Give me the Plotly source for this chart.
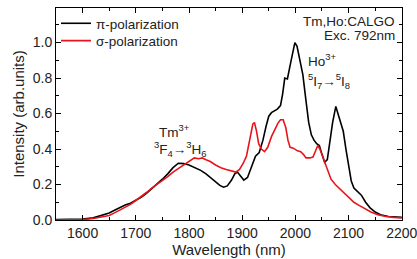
import plotly.graph_objects as go

wl_pi = [1550,1575,1600,1620,1640,1650,1660,1670,1680,1690,1700,1710,1720,1730,1740,1750,1760,1770,1780,1790,
         1800,1810,1822,1832,1840,1850,1858,1865,1872,1880,1886,1891,1896,1903,1910,1917,1925,1932,1939,1945,
         1950,1955,1960,1966,1972,1976,1980,1985,1990,1995,1999,2003,2008,2014,2020,2025,2030,2035,2040,2045,
         2050,2055,2060,2065,2070,2076,2080,2085,2090,2095,2100,2105,2110,2118,2124,2132,2140,2150,2160,2175,
         2190,2200]
int_pi = [0.002,0.003,0.005,0.012,0.028,0.04,0.055,0.07,0.085,0.095,0.11,0.128,0.15,0.175,0.2,0.23,0.26,0.295,0.32,0.318,
          0.31,0.295,0.28,0.26,0.24,0.21,0.195,0.185,0.192,0.225,0.26,0.27,0.25,0.225,0.24,0.3,0.36,0.38,0.45,0.53,
          0.585,0.605,0.615,0.625,0.645,0.71,0.8,0.795,0.87,0.95,1.0,0.98,0.9,0.82,0.67,0.55,0.48,0.45,0.43,0.42,
          0.37,0.325,0.34,0.45,0.55,0.64,0.6,0.55,0.5,0.4,0.3,0.22,0.18,0.16,0.14,0.1,0.07,0.045,0.03,0.02,
          0.015,0.015]

wl_sigma = [1550,1575,1600,1620,1640,1650,1660,1670,1680,1690,1700,1710,1720,1730,1740,1750,1760,1770,1780,1790,
            1800,1810,1818,1825,1832,1840,1850,1860,1870,1880,1888,1895,1902,1908,1914,1920,1923,1927,1931,1936,
            1942,1948,1955,1962,1967,1972,1977,1982,1986,1990,1996,2004,2010,2015,2020,2027,2033,2038,2042,2046,
            2052,2060,2067,2075,2085,2092,2100,2110,2118,2130,2142,2155,2170,2185,2200]
int_sigma = [0.0,0.0,0.003,0.008,0.018,0.025,0.04,0.055,0.07,0.088,0.11,0.13,0.155,0.18,0.2,0.225,0.245,0.27,0.29,0.31,
             0.33,0.35,0.345,0.35,0.34,0.33,0.31,0.295,0.285,0.275,0.27,0.285,0.32,0.36,0.45,0.54,0.55,0.5,0.43,0.4,
             0.385,0.41,0.47,0.52,0.545,0.565,0.565,0.52,0.45,0.41,0.405,0.39,0.385,0.37,0.35,0.35,0.355,0.39,0.42,0.4,
             0.35,0.29,0.23,0.2,0.17,0.15,0.13,0.1,0.085,0.065,0.045,0.03,0.02,0.015,0.012]

x_ticks = [1600,1700,1800,1900,2000,2100,2200]
x_tick_labels = ["1600","1700","1800","1900","2000","2100","2200"]
y_ticks = [0.0,0.2,0.4,0.6,0.8,1.0]
y_tick_labels = ["0.0","0.2","0.4","0.6","0.8","1.0"]

FONT = "Arial, Liberation Sans, sans-serif"

fig = go.Figure()
fig.add_trace(go.Scatter(x=wl_pi, y=int_pi, mode="lines", name="π-polarization", showlegend=True,
                         line=dict(color="black", width=1.6), legend="legend"))
fig.add_trace(go.Scatter(x=wl_sigma, y=int_sigma, mode="lines", name="σ-polarization", showlegend=True,
                         line=dict(color="#e8141b", width=1.6), legend="legend2"))

axis_common = dict(showline=True, linecolor="black", linewidth=1, mirror="ticks",
                   ticks="inside", ticklen=5, tickcolor="black", showgrid=False, zeroline=False,
                   ticklabeloverflow="allow", automargin=False,
                   tickfont=dict(family=FONT, size=14, color="#222"))

fig.update_xaxes(range=[1550, 2200.4], tickvals=x_ticks, ticktext=x_tick_labels,
                 title=dict(text="Wavelength (nm)", font=dict(family=FONT, size=15, color="#222"), standoff=3),
                 minor=dict(ticks="inside", ticklen=3, dtick=50, tick0=1550, tickcolor="black"),
                 **axis_common)
fig.update_yaxes(range=[0, 1.195], tickvals=y_ticks, ticktext=y_tick_labels,
                 title=dict(text="Intensity (arb.units)", font=dict(family=FONT, size=15, color="#222"), standoff=4),
                 minor=dict(ticks="inside", ticklen=3, dtick=0.1, tick0=0, tickcolor="black"),
                 **axis_common)

ann_font = dict(family=FONT, size=13.5, color="#222")
fig.add_annotation(x=0.985, y=0.936, xref="paper", yref="paper", text="Tm,Ho:CALGO",
                   showarrow=False, xanchor="right", yanchor="middle", font=ann_font)
fig.add_annotation(x=0.985, y=0.872, xref="paper", yref="paper", text="Exc. 792nm",
                   showarrow=False, xanchor="right", yanchor="middle", font=ann_font)
fig.add_annotation(x=2019, y=0.90, text="Ho<sup>3+</sup>", showarrow=False, xanchor="left", font=ann_font)
fig.add_annotation(x=2019, y=0.785, text="<sup>5</sup>I<sub>7</sub>→<sup>5</sup>I<sub>8</sub>",
                   showarrow=False, xanchor="left", font=ann_font)
fig.add_annotation(x=1740, y=0.50, text="Tm<sup>3+</sup>", showarrow=False, xanchor="left", font=ann_font)
fig.add_annotation(x=1731, y=0.40, text="<sup>3</sup>F<sub>4</sub>→<sup>3</sup>H<sub>6</sub>",
                   showarrow=False, xanchor="left", font=ann_font)

leg_common = dict(xanchor="left", yanchor="top", bgcolor="rgba(0,0,0,0)",
                  font=dict(family=FONT, size=13.5, color="#222"), itemwidth=30)
fig.update_layout(width=417, height=259, margin=dict(l=56, r=15, t=8, b=39, autoexpand=False),
                  plot_bgcolor="white", paper_bgcolor="white", showlegend=True,
                  font=dict(family=FONT, color="#222"),
                  legend=dict(x=0.0, y=1.0, **leg_common),
                  legend2=dict(x=0.0, y=0.918, **leg_common))

fig.write_html("out.html", config={"displayModeBar": False},
               post_script="document.body.style.margin='0px';document.body.style.overflow='hidden';")
